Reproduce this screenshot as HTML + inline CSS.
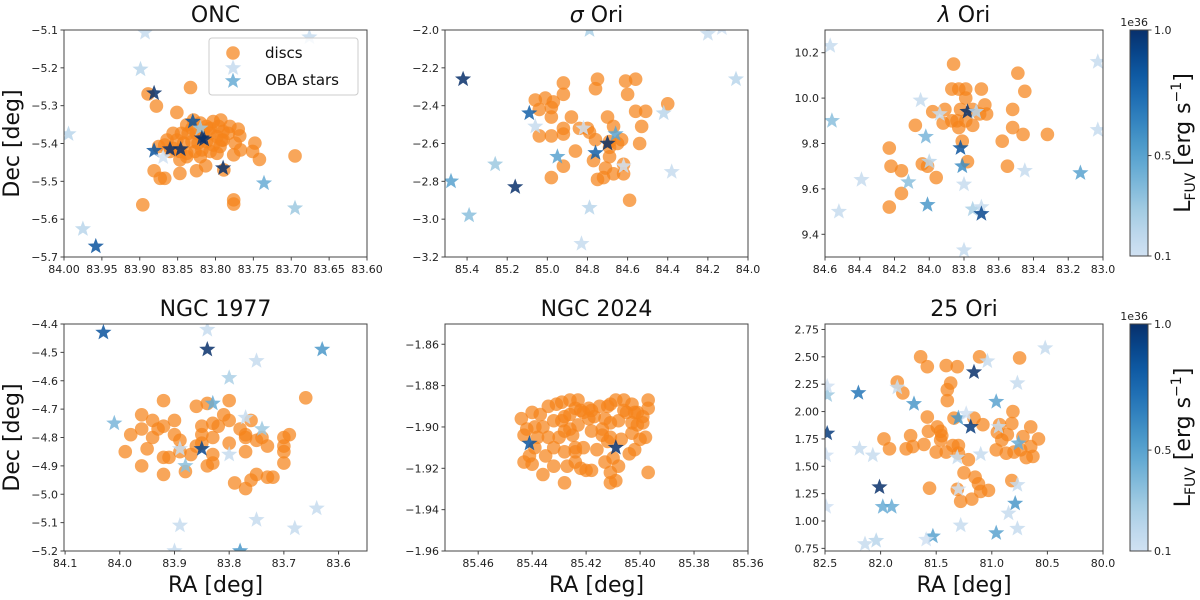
<!DOCTYPE html>
<html><head><meta charset="utf-8"><style>
body{margin:0;background:#fff;}
svg{display:block;font-family:"DejaVu Sans","Liberation Sans",sans-serif;}
</style></head><body>
<svg id="fig" width="1200" height="600" viewBox="0 0 1200 600" xmlns="http://www.w3.org/2000/svg"></svg>
<script>
// ---------- DATA ----------
const oncDiscX=[83.889,83.878,83.833,83.851,83.896,83.881,83.873,83.867,83.847,83.825,83.813,83.789,83.776,83.776,83.748,83.751,83.742,83.695,83.781,83.770,83.768,83.774,83.776,83.767,83.793,
83.838,83.829,83.820,83.812,83.803,83.796,83.790,83.845,83.836,83.825,83.816,83.807,83.798,83.792,83.851,83.842,83.831,83.823,83.812,83.803,83.794,83.856,83.847,83.838,83.827,83.818,83.807,83.798,83.847,83.838,83.820,83.875,83.867,83.860,83.790,83.783,83.856,83.831,83.807,83.864];
const oncDiscY=[-5.269,-5.301,-5.252,-5.318,-5.562,-5.472,-5.492,-5.492,-5.479,-5.472,-5.459,-5.470,-5.549,-5.560,-5.399,-5.421,-5.442,-5.433,-5.355,-5.362,-5.380,-5.399,-5.430,-5.417,-5.338,
-5.351,-5.338,-5.346,-5.355,-5.342,-5.355,-5.368,-5.373,-5.373,-5.373,-5.368,-5.373,-5.382,-5.391,-5.391,-5.399,-5.395,-5.399,-5.395,-5.404,-5.408,-5.413,-5.421,-5.426,-5.421,-5.417,-5.421,-5.426,-5.443,-5.435,-5.435,-5.408,-5.404,-5.421,-5.391,-5.373,-5.373,-5.360,-5.360,-5.391];
const oncStarX=[83.893,83.676,83.899,83.776,83.881,83.994,83.830,83.820,83.818,83.815,83.881,83.860,83.846,83.869,83.790,83.736,83.695,83.975,83.958];
const oncStarY=[-5.107,-5.119,-5.204,-5.201,-5.267,-5.375,-5.342,-5.360,-5.386,-5.389,-5.419,-5.415,-5.415,-5.436,-5.465,-5.505,-5.571,-5.626,-5.672];
const oncStarL=[0.15,0.15,0.2,0.15,1.0,0.2,0.85,0.3,1.0,1.0,0.85,1.0,1.0,0.1,1.0,0.45,0.3,0.2,0.85];

const sigDiscX=[84.92,84.92,85.06,85.01,84.97,85.04,84.98,84.98,85.04,84.98,84.92,84.92,84.92,84.98,84.88,84.86,84.84,84.80,84.79,84.76,84.75,84.76,84.70,84.69,84.69,84.67,84.65,84.63,84.61,84.60,84.56,84.56,84.51,84.53,84.54,84.40,84.69,84.71,84.75,84.72,84.67,84.62,84.62,84.59,84.77];
const sigDiscY=[-2.28,-2.34,-2.37,-2.36,-2.38,-2.42,-2.41,-2.46,-2.56,-2.56,-2.52,-2.55,-2.72,-2.78,-2.46,-2.64,-2.52,-2.52,-2.54,-2.58,-2.26,-2.31,-2.46,-2.59,-2.62,-2.51,-2.60,-2.58,-2.27,-2.34,-2.26,-2.43,-2.43,-2.51,-2.60,-2.39,-2.67,-2.73,-2.79,-2.78,-2.76,-2.76,-2.71,-2.90,-2.69];
const sigStarX=[85.42,85.09,85.06,85.48,85.39,85.26,85.16,84.95,84.82,84.76,84.70,84.66,84.62,84.79,84.79,84.83,84.42,84.38,84.20,84.06,84.13];
const sigStarY=[-2.26,-2.44,-2.51,-2.80,-2.98,-2.71,-2.83,-2.67,-2.52,-2.65,-2.60,-2.55,-2.72,-2.00,-2.94,-3.13,-2.44,-2.75,-2.02,-2.26,-1.99];
const sigStarL=[1.0,0.8,0.15,0.5,0.35,0.3,1.0,0.5,0.1,0.8,1.0,0.5,0.1,0.25,0.2,0.15,0.2,0.15,0.15,0.2,0.1];

const lamDiscX=[83.86,83.87,83.83,83.79,83.79,83.70,83.49,83.45,83.68,83.67,83.71,83.75,83.82,83.91,83.98,83.92,83.87,83.84,83.83,83.79,83.75,84.08,83.81,83.78,83.52,83.52,83.46,83.32,83.58,83.55,84.23,84.22,84.16,84.16,84.23,84.04,84.01,83.96];
const lamDiscY=[10.15,10.04,10.04,10.04,10.00,10.04,10.11,10.03,9.97,9.93,9.93,9.95,9.95,9.95,9.94,9.89,9.90,9.90,9.87,9.90,9.88,9.88,9.81,9.72,9.95,9.87,9.84,9.84,9.81,9.70,9.78,9.70,9.68,9.58,9.52,9.71,9.70,9.65];
const lamStarX=[84.57,84.56,84.05,83.94,84.02,84.00,84.12,84.39,84.52,84.01,83.78,83.73,83.82,83.81,83.80,83.75,83.70,83.70,83.80,83.45,83.13,83.03,83.03];
const lamStarY=[10.23,9.90,9.99,9.93,9.83,9.72,9.63,9.64,9.50,9.53,9.94,9.94,9.78,9.70,9.62,9.51,9.52,9.49,9.33,9.68,9.67,10.16,9.86];
const lamStarL=[0.15,0.35,0.15,0.15,0.4,0.2,0.35,0.15,0.15,0.55,1.0,0.2,0.85,0.6,0.15,0.25,0.15,0.9,0.15,0.15,0.5,0.15,0.15];

const n77DiscX=[83.99,83.98,83.96,83.96,83.95,83.96,83.94,83.94,83.93,83.92,83.92,83.92,83.92,83.91,83.90,83.90,83.89,83.89,83.88,83.87,83.86,83.86,83.85,83.85,83.85,83.84,83.84,83.83,83.83,83.83,83.83,83.82,83.81,83.80,83.80,83.80,83.79,83.78,83.77,83.77,83.77,83.77,83.76,83.76,83.75,83.75,83.74,83.73,83.73,83.72,83.70,83.70,83.70,83.70,83.69,83.66];
const n77DiscY=[-4.85,-4.79,-4.72,-4.77,-4.84,-4.90,-4.74,-4.80,-4.77,-4.67,-4.76,-4.87,-4.93,-4.87,-4.74,-4.79,-4.81,-4.85,-4.92,-4.86,-4.83,-4.69,-4.76,-4.79,-4.82,-4.68,-4.90,-4.80,-4.75,-4.86,-4.89,-4.76,-4.72,-4.82,-4.67,-4.74,-4.96,-4.77,-4.80,-4.79,-4.85,-4.98,-4.95,-4.74,-4.81,-4.93,-4.80,-4.83,-4.94,-4.94,-4.80,-4.83,-4.85,-4.89,-4.79,-4.66];
const n77StarX=[84.03,83.84,83.84,83.75,83.80,83.83,83.63,84.01,83.77,83.74,83.89,83.88,83.85,83.80,83.89,83.75,83.68,83.64,83.78,83.90];
const n77StarY=[-4.43,-4.42,-4.49,-4.53,-4.59,-4.68,-4.49,-4.75,-4.73,-4.77,-4.84,-4.90,-4.84,-4.86,-5.11,-5.09,-5.12,-5.05,-5.20,-5.20];
const n77StarL=[0.85,0.15,1.0,0.15,0.25,0.45,0.55,0.4,0.15,0.3,0.15,0.35,0.9,0.15,0.15,0.15,0.15,0.15,0.55,0.15];

const n24DiscX=[85.444,85.443,85.440,85.442,85.439,85.443,85.440,85.441,85.439,85.438,85.437,85.436,85.435,85.436,85.434,85.434,85.432,85.432,85.432,85.431,85.430,85.429,85.428,85.429,85.428,85.428,85.428,85.426,85.426,85.426,85.425,85.427,85.424,85.423,85.423,85.424,85.424,85.422,85.421,85.421,85.424,85.422,85.419,85.419,85.420,85.418,85.418,85.418,85.417,85.416,85.415,85.414,85.414,85.413,85.413,85.412,85.412,85.411,85.411,85.411,85.410,85.411,85.411,85.409,85.409,85.408,85.408,85.407,85.406,85.406,85.405,85.404,85.403,85.403,85.403,85.402,85.402,85.401,85.400,85.399,85.399,85.398,85.397,85.397,85.397,85.401];
const n24DiscY=[-1.896,-1.904,-1.893,-1.901,-1.900,-1.917,-1.918,-1.914,-1.910,-1.905,-1.894,-1.900,-1.914,-1.923,-1.890,-1.905,-1.897,-1.910,-1.919,-1.889,-1.905,-1.888,-1.902,-1.897,-1.895,-1.912,-1.927,-1.901,-1.887,-1.894,-1.904,-1.919,-1.891,-1.887,-1.899,-1.910,-1.917,-1.892,-1.893,-1.910,-1.912,-1.920,-1.891,-1.896,-1.921,-1.892,-1.902,-1.921,-1.895,-1.911,-1.890,-1.901,-1.904,-1.917,-1.896,-1.890,-1.907,-1.889,-1.898,-1.905,-1.915,-1.922,-1.927,-1.887,-1.926,-1.919,-1.897,-1.906,-1.887,-1.892,-1.893,-1.913,-1.903,-1.889,-1.898,-1.911,-1.893,-1.899,-1.906,-1.895,-1.898,-1.905,-1.887,-1.891,-1.922,-1.893];
const n24StarX=[85.441,85.409];
const n24StarY=[-1.908,-1.910];
const n24StarL=[0.85,1.0];

const o25DiscX=[81.64,81.58,81.41,81.31,81.11,80.75,81.37,81.40,81.85,81.80,81.40,81.58,81.57,81.49,81.46,81.45,81.46,81.50,81.41,81.35,81.30,81.30,81.34,81.16,81.08,81.21,81.25,81.15,81.12,81.10,81.03,81.18,81.28,81.31,81.56,81.97,81.92,81.77,81.73,81.71,81.61,80.81,80.82,80.93,80.95,80.91,80.86,80.96,80.87,80.80,80.72,80.74,80.69,80.65,80.65,80.63,80.58,80.82];
const o25DiscY=[2.50,2.41,2.42,2.41,2.50,2.49,2.26,2.20,2.27,2.17,2.10,1.95,1.82,1.86,1.82,1.78,1.74,1.63,1.63,1.69,1.69,1.62,1.94,1.94,1.88,1.56,1.44,1.40,1.34,1.27,1.28,1.20,1.18,1.29,1.30,1.75,1.66,1.66,1.78,1.68,1.70,2.00,1.89,1.88,1.81,1.74,1.79,1.65,1.62,1.63,1.77,1.65,1.58,1.86,1.68,1.59,1.75,1.37];
const o25StarX=[82.48,82.48,82.20,81.85,81.70,82.48,82.19,82.07,81.30,81.23,81.19,81.16,81.04,80.77,80.52,80.96,80.94,81.10,81.31,80.76,81.30,80.77,80.79,80.85,80.77,80.96,81.28,81.53,81.59,82.01,81.98,81.90,82.04,82.14,82.49,82.49];
const o25StarY=[2.15,2.23,2.17,2.22,2.07,1.80,1.66,1.60,1.94,1.98,1.86,2.36,2.46,2.26,2.58,2.09,1.86,1.61,1.58,1.71,1.29,1.33,1.16,1.07,0.93,0.89,0.96,0.86,0.83,1.31,1.13,1.13,0.82,0.79,1.13,1.60];
const o25StarL=[0.3,0.1,0.7,0.15,0.55,0.95,0.15,0.15,0.55,0.1,0.95,1.0,0.15,0.15,0.15,0.5,0.15,0.15,0.15,0.45,0.1,0.15,0.55,0.15,0.15,0.5,0.15,0.5,0.1,1.0,0.45,0.45,0.2,0.15,0.1,0.1];

const oncXTicks=[84.00,83.95,83.90,83.85,83.80,83.75,83.70,83.65,83.60];
const oncYTicks=[-5.7,-5.6,-5.5,-5.4,-5.3,-5.2,-5.1];
const sigXTicks=[85.4,85.2,85.0,84.8,84.6,84.4,84.2,84.0];
const sigYTicks=[-3.2,-3.0,-2.8,-2.6,-2.4,-2.2,-2.0];
const lamXTicks=[84.6,84.4,84.2,84.0,83.8,83.6,83.4,83.2,83.0];
const lamYTicks=[9.4,9.6,9.8,10.0,10.2];
const n77XTicks=[84.1,84.0,83.9,83.8,83.7,83.6];
const n77YTicks=[-5.2,-5.1,-5.0,-4.9,-4.8,-4.7,-4.6,-4.5,-4.4];
const n24XTicks=[85.46,85.44,85.42,85.40,85.38,85.36];
const n24YTicks=[-1.96,-1.94,-1.92,-1.90,-1.88,-1.86];
const o25XTicks=[82.5,82.0,81.5,81.0,80.5,80.0];
const o25YTicks=[0.75,1.00,1.25,1.50,1.75,2.00,2.25,2.50,2.75];
const cbarTicks=[0.1,0.5,1.0];

// ---------- DRAW ----------
const NS='http://www.w3.org/2000/svg';
const fig=document.getElementById('fig');
function mk(tag,attrs,parent){const e=document.createElementNS(NS,tag);for(const k in attrs)e.setAttribute(k,attrs[k]);(parent||fig).appendChild(e);return e;}
const blues=[[0,[247,251,255]],[0.125,[222,235,247]],[0.25,[198,219,239]],[0.375,[158,202,225]],[0.5,[107,174,214]],[0.625,[66,146,198]],[0.75,[33,113,181]],[0.875,[8,81,156]],[1,[8,48,107]]];
function cmap(L){let t=0.2+0.8*Math.max(0,Math.min(1,(L-0.1)/0.9));for(let i=1;i<blues.length;i++){if(t<=blues[i][0]){const a=blues[i-1],b=blues[i];const f=(t-a[0])/(b[0]-a[0]);const c=a[1].map((v,j)=>Math.round(v+(b[1][j]-v)*f));return `rgb(${c[0]},${c[1]},${c[2]})`;}}return 'rgb(8,48,107)';}
function starPath(cx,cy,R){const r=R*0.42;let d='';for(let i=0;i<10;i++){const a=-Math.PI/2+i*Math.PI/5;const rr=i%2?r:R;d+=(i?'L':'M')+(cx+rr*Math.cos(a)).toFixed(1)+' '+(cy+rr*Math.sin(a)).toFixed(1);}return d+'Z';}
function fmt(v,dec){const s=Math.abs(v).toFixed(dec);return (v<0?'\u2212':'')+s;}
let clipId=0;
function panel(o){
  const g=mk('g',{});
  
  
  const {L,R,T,B,xr,yr}=o;
  const sx=v=>L+(v-xr[0])/(xr[1]-xr[0])*(R-L);
  const sy=v=>B-(v-yr[0])/(yr[1]-yr[0])*(B-T);
  const cid='clip'+(clipId++);
  const cp=mk('clipPath',{id:cid},g);mk('rect',{x:L,y:T,width:R-L,height:B-T},cp);
  const pg=mk('g',{'clip-path':`url(#${cid})`},g);
  
  
  for(let i=0;i<o.dx.length;i++){
    const c=mk('circle',{cx:sx(o.dx[i]),cy:sy(o.dy[i]),r:6.8,fill:'#f5831a','fill-opacity':0.72},pg);
    
    
  }
  for(let i=0;i<o.sx.length;i++){
    const s=mk('path',{d:starPath(sx(o.sx[i]),sy(o.sy[i]),8.5),fill:cmap(o.sl[i]),'fill-opacity':0.85},pg);
    
    
  }
  const fr=mk('rect',{x:L,y:T,width:R-L,height:B-T,fill:'none',stroke:'#444','stroke-width':1},g);
  
  
  o.xt.forEach(v=>{const x=sx(v);mk('line',{x1:x,x2:x,y1:B,y2:B+3.5,stroke:'#444'},g);
    const t=mk('text',{x:x,y:B+16,'text-anchor':'middle','font-size':11,fill:'#222'},g);t.textContent=fmt(v,o.xd);
    
    });
  o.yt.forEach(v=>{const y=sy(v);mk('line',{x1:L,x2:L-3.5,y1:y,y2:y,stroke:'#444'},g);
    const t=mk('text',{x:L-6,y:y+4,'text-anchor':'end','font-size':11,fill:'#222'},g);t.textContent=fmt(v,o.yd);
    
    });
  const tt=mk('text',{x:(L+R)/2,y:T-8,'text-anchor':'middle','font-size':22,fill:'#111'},g);
  tt.innerHTML=o.title;
  
  
  if(o.ylab){const yl=mk('text',{x:0,y:0,transform:`translate(${L-45},${(T+B)/2}) rotate(-90)`,'text-anchor':'middle','font-size':22,fill:'#111'},g);yl.textContent='Dec [deg]';
    
    }
  if(o.xlab){const xl=mk('text',{x:(L+R)/2,y:B+41,'text-anchor':'middle','font-size':22,fill:'#111'},g);xl.textContent='RA [deg]';
    
    }
}
const T1=30,B1=257,T2=324,B2=551;
panel({name:'onc',L:64,R:367,T:T1,B:B1,xr:[84.0,83.6],yr:[-5.7,-5.1],dx:oncDiscX,dy:oncDiscY,sx:oncStarX,sy:oncStarY,sl:oncStarL,xt:oncXTicks,yt:oncYTicks,xd:2,yd:1,title:'ONC',ylab:true});
panel({name:'sigma-ori',L:445,R:748,T:T1,B:B1,xr:[85.51,84.0],yr:[-3.2,-2.0],dx:sigDiscX,dy:sigDiscY,sx:sigStarX,sy:sigStarY,sl:sigStarL,xt:sigXTicks,yt:sigYTicks,xd:1,yd:1,title:'<tspan font-style="italic">σ</tspan> Ori'});
panel({name:'lambda-ori',L:825,R:1103,T:T1,B:B1,xr:[84.6,83.0],yr:[9.3,10.3],dx:lamDiscX,dy:lamDiscY,sx:lamStarX,sy:lamStarY,sl:lamStarL,xt:lamXTicks,yt:lamYTicks,xd:1,yd:1,title:'<tspan font-style="italic">λ</tspan> Ori'});
panel({name:'ngc1977',L:64,R:367,T:T2,B:B2,xr:[84.102,83.548],yr:[-5.2,-4.4],dx:n77DiscX,dy:n77DiscY,sx:n77StarX,sy:n77StarY,sl:n77StarL,xt:n77XTicks,yt:n77YTicks,xd:1,yd:1,title:'NGC 1977',ylab:true,xlab:true});
panel({name:'ngc2024',L:445,R:748,T:T2,B:B2,xr:[85.4723,85.36],yr:[-1.96,-1.8502],dx:n24DiscX,dy:n24DiscY,sx:n24StarX,sy:n24StarY,sl:n24StarL,xt:n24XTicks,yt:n24YTicks,xd:2,yd:2,title:'NGC 2024',xlab:true});
panel({name:'25-ori',L:825,R:1103,T:T2,B:B2,xr:[82.5,80.0],yr:[0.726,2.80],dx:o25DiscX,dy:o25DiscY,sx:o25StarX,sy:o25StarY,sl:o25StarL,xt:o25XTicks,yt:o25YTicks,xd:1,yd:2,title:'25 Ori',xlab:true});

// legend
const lg=mk('g',{});


mk('rect',{x:209,y:38,width:149,height:57,rx:3,fill:'#fff','fill-opacity':0.8,stroke:'#ccc'},lg);
mk('circle',{cx:233,cy:53,r:6.8,fill:'#f5831a','fill-opacity':0.72},lg);
mk('path',{d:starPath(233,68,8.5),fill:cmap(0.15),'fill-opacity':0.85},lg);
mk('path',{d:starPath(233,81,8.5),fill:cmap(0.45),'fill-opacity':0.85},lg);
const l1=mk('text',{x:265,y:58,'font-size':15,fill:'#111'},lg);l1.textContent='discs';


const l2=mk('text',{x:265,y:85,'font-size':15,fill:'#111'},lg);l2.textContent='OBA stars';



// colorbars
let gid=0;
function cbar(T,B){
  const x=1130,w=18;
  const g=mk('g',{});
  
  
  const id='cg'+(gid++);
  const defs=mk('defs',{},g);
  const lgd=mk('linearGradient',{id:id,x1:0,y1:1,x2:0,y2:0},defs);
  for(let i=0;i<=10;i++){mk('stop',{offset:i/10,'stop-color':cmap(0.1+0.9*i/10)},lgd);}
  mk('rect',{x:x,y:T,width:w,height:B-T,fill:`url(#${id})`,stroke:'#444'},g);
  cbarTicks.forEach(v=>{const y=B-(v-0.1)/0.9*(B-T);mk('line',{x1:x+w,x2:x+w+3.5,y1:y,y2:y,stroke:'#444'},g);
    const t=mk('text',{x:x+w+6,y:y+4,'font-size':11,fill:'#222'},g);t.textContent=v.toFixed(1);
    
    });
  const e=mk('text',{x:x+w,y:T-4,'text-anchor':'end','font-size':11,fill:'#222'},g);e.textContent='1e36';
  
  
  const lb=mk('text',{x:0,y:0,transform:`translate(1190,${(T+B)/2}) rotate(-90)`,'text-anchor':'middle','font-size':22,fill:'#111'},g);
  lb.innerHTML='L<tspan font-size="14" dy="5">FUV</tspan><tspan dy="-5"> [erg s</tspan><tspan font-size="14" dy="-9">−1</tspan><tspan dy="9">]</tspan>';
  
  
}
cbar(30,256);cbar(324,551);
</script>
</body></html>
